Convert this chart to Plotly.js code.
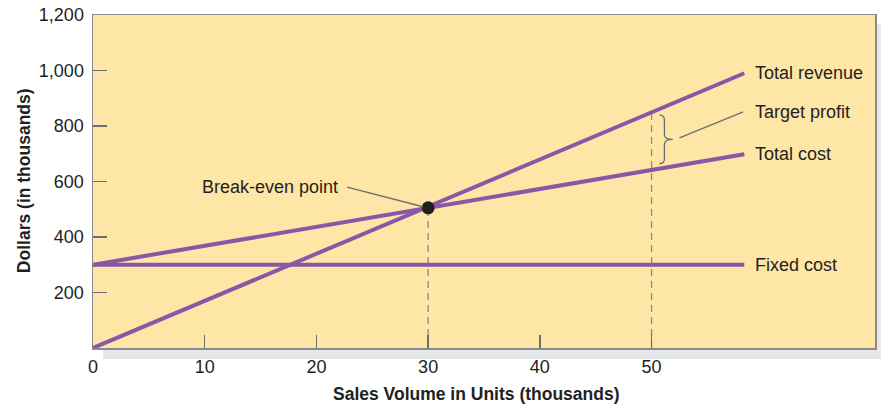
<!DOCTYPE html>
<html>
<head>
<meta charset="utf-8">
<script src="https://cdn.plot.ly/plotly-3.0.1.min.js"></script>
<style>
html,body{margin:0;padding:0;background:#fff;}
#chart{width:881px;height:407px;}
</style>
</head>
<body>
<div id="chart"></div>
<script>
// ---- data (thousands of units, thousands of dollars) ----
const volume = [0, 58.3];
const totalRevenue = [0, 990];
const totalCost = [300, 698];
const fixedCost = [300, 300];
const breakEvenX = [30];
const breakEvenY = [505];
const targetX = [50];
const revenueAtTarget = [849];
const costAtTarget = [642];
const xTickVals = [0, 10, 20, 30, 40, 50];
const yTickVals = [200, 400, 600, 800, 1000, 1200];
const seriesLabels = ["Total revenue", "Total cost", "Fixed cost"];
const calloutLabels = ["Break-even point", "Target profit"];
const axisTitles = ["Sales Volume in Units (thousands)", "Dollars (in thousands)"];

const FONT = "'Liberation Sans', Arial, Helvetica, sans-serif";
const TXT = "#231f20";
const PURPLE = "#8c55a6";
const GRAY = "#8a8a8a";

const traces = [
  {x:[breakEvenX[0], breakEvenX[0]], y:[0, breakEvenY[0]], mode:"lines",
   line:{color:GRAY, width:1.3, dash:"7px,5px"}, hoverinfo:"skip"},
  {x:[targetX[0], targetX[0]], y:[0, revenueAtTarget[0]], mode:"lines",
   line:{color:GRAY, width:1.3, dash:"7px,5px"}, hoverinfo:"skip"},
  {x:volume, y:fixedCost, mode:"lines", name:seriesLabels[2], line:{color:PURPLE, width:4}},
  {x:volume, y:totalCost, mode:"lines", name:seriesLabels[1], line:{color:PURPLE, width:4}},
  {x:volume, y:totalRevenue, mode:"lines", name:seriesLabels[0], line:{color:PURPLE, width:4}},
  {x:breakEvenX, y:breakEvenY, mode:"markers", marker:{color:TXT, size:13}, hoverinfo:"skip"}
];

// brace between revenue and cost at target volume
const bx0 = targetX[0] + 0.7, bx1 = targetX[0] + 1.15, bx2 = targetX[0] + 1.9;
const yTop = revenueAtTarget[0] - 10, yBot = costAtTarget[0] + 22;
const yMid = (yTop + yBot) / 2, d = 18;
const bracePath = `M ${bx0},${yTop} Q ${bx1},${yTop} ${bx1},${yTop-d} L ${bx1},${yMid+d} Q ${bx1},${yMid} ${bx2},${yMid} Q ${bx1},${yMid} ${bx1},${yMid-d} L ${bx1},${yBot+d} Q ${bx1},${yBot} ${bx0},${yBot}`;

const labelX = volume[1] + 0.8;
const layout = {
  width:881, height:407,
  margin:{l:93, r:6, t:15, b:59},
  paper_bgcolor:"#ffffff",
  plot_bgcolor:"rgba(0,0,0,0)",
  showlegend:false,
  separators:".,",
  font:{family:FONT, color:TXT, size:18},
  xaxis:{range:[0,70], tickvals:xTickVals, ticks:"inside", ticklen:13, tickwidth:1.3, tickcolor:"#6d6e71",
         showline:true, mirror:true, linecolor:"#8a8a8a", linewidth:1.5, showgrid:false, zeroline:false,
         tickfont:{family:FONT, size:18, color:TXT}, ticklabelstandoff:2, automargin:false},
  yaxis:{range:[0,1200], tickvals:yTickVals, tickformat:",", ticks:"inside", ticklen:14, tickwidth:1.3, tickcolor:"#6d6e71",
         showline:true, mirror:true, linecolor:"#8a8a8a", linewidth:1.5, showgrid:false, zeroline:false,
         tickfont:{family:FONT, size:18, color:TXT}, ticklabelstandoff:4, automargin:false},
  shapes:[
    {type:"rect", xref:"paper", yref:"paper", x0:0.0128, x1:1.02, y0:-0.033, y1:0.973, layer:"below",
     fillcolor:"#e6e7e8", line:{width:0}},
    {type:"rect", xref:"paper", yref:"paper", x0:0, x1:1, y0:0, y1:1, layer:"below",
     fillcolor:"#fee6a7", line:{width:0}},
    {type:"path", xref:"x", yref:"y", path:bracePath, line:{color:"#6d6e71", width:1.3}},
    {type:"line", xref:"x", yref:"y", x0:22.74, y0:580, x1:breakEvenX[0]-0.45, y1:breakEvenY[0]+4, line:{color:"#6d6e71", width:1.3}},
    {type:"line", xref:"x", yref:"y", x0:bx2+0.6, y0:yMid+6, x1:labelX-0.9, y1:revenueAtTarget[0]+2, line:{color:"#6d6e71", width:1.3}}
  ],
  annotations:[
    {x:labelX, y:totalRevenue[1], text:seriesLabels[0], xanchor:"left", yanchor:"middle", showarrow:false},
    {x:labelX, y:totalCost[1], text:seriesLabels[1], xanchor:"left", yanchor:"middle", showarrow:false},
    {x:labelX, y:fixedCost[1], text:seriesLabels[2], xanchor:"left", yanchor:"middle", showarrow:false},
    {x:labelX, y:revenueAtTarget[0]+2, text:calloutLabels[1], xanchor:"left", yanchor:"middle", showarrow:false},
    {x:22.1, y:580, text:calloutLabels[0], xanchor:"right", yanchor:"middle", showarrow:false},
    // axis titles placed in paper space
    {xref:"paper", yref:"paper", x:0.491, y:-0.138, text:"<b>" + axisTitles[0] + "</b>",
     xanchor:"center", yanchor:"middle", showarrow:false, font:{family:FONT, size:17.5, color:TXT}},
    {xref:"paper", yref:"paper", x:-0.0887, y:0.503, text:"<b>" + axisTitles[1] + "</b>", textangle:-90,
     xanchor:"center", yanchor:"middle", showarrow:false, font:{family:FONT, size:17.5, color:TXT}}
  ]
};
Plotly.newPlot("chart", traces, layout, {displayModeBar:false, staticPlot:true});
</script>
</body>
</html>
